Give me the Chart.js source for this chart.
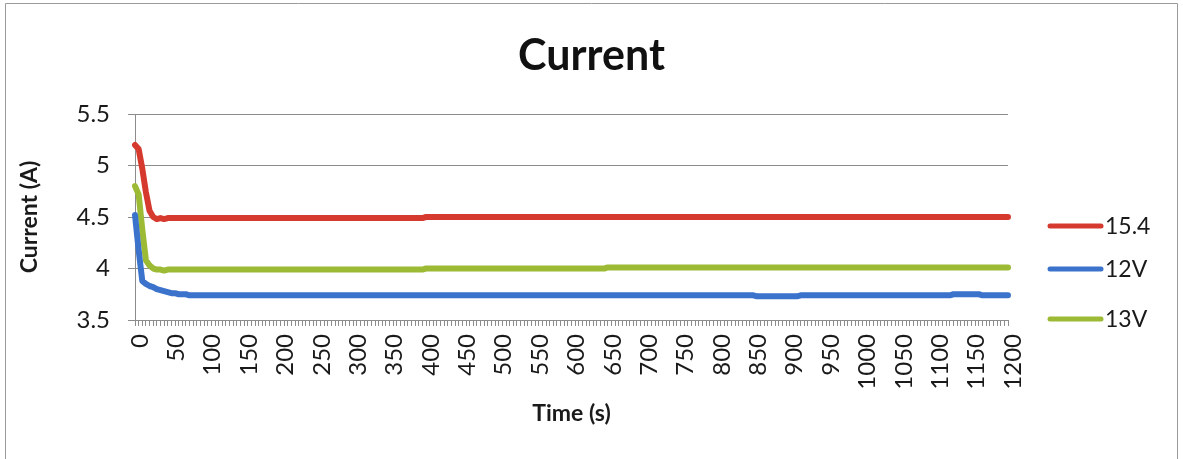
<!DOCTYPE html>
<html>
<head>
<meta charset="utf-8">
<script src="https://cdn.jsdelivr.net/npm/chart.js@4.4.1/dist/chart.umd.min.js"></script>
<style>
html,body{margin:0;padding:0;background:#fff;}
#wrap{width:1183px;height:459px;position:relative;}
</style>
</head>
<body>
<div id="wrap"><canvas id="c" width="1183" height="459"></canvas></div>
<script>
// ---- data ----
const times = [
0,5,10,15,20,25,30,35,40,45,
50,55,60,65,70,75,80,85,90,95,
100,105,110,115,120,125,130,135,140,145,
150,155,160,165,170,175,180,185,190,195,
200,205,210,215,220,225,230,235,240,245,
250,255,260,265,270,275,280,285,290,295,
300,305,310,315,320,325,330,335,340,345,
350,355,360,365,370,375,380,385,390,395,
400,405,410,415,420,425,430,435,440,445,
450,455,460,465,470,475,480,485,490,495,
500,505,510,515,520,525,530,535,540,545,
550,555,560,565,570,575,580,585,590,595,
600,605,610,615,620,625,630,635,640,645,
650,655,660,665,670,675,680,685,690,695,
700,705,710,715,720,725,730,735,740,745,
750,755,760,765,770,775,780,785,790,795,
800,805,810,815,820,825,830,835,840,845,
850,855,860,865,870,875,880,885,890,895,
900,905,910,915,920,925,930,935,940,945,
950,955,960,965,970,975,980,985,990,995,
1000,1005,1010,1015,1020,1025,1030,1035,1040,1045,
1050,1055,1060,1065,1070,1075,1080,1085,1090,1095,
1100,1105,1110,1115,1120,1125,1130,1135,1140,1145,
1150,1155,1160,1165,1170,1175,1180,1185,1190,1195,
1200];

const xTickLabels = [0,50,100,150,200,250,300,350,400,450,500,550,600,650,700,750,800,850,900,950,1000,1050,1100,1150,1200];
const yTickValues = [3.5,4,4.5,5,5.5];
const seriesNames = ["15.4","12V","13V"];
const chartTitle = "Current";

const current154 = [
5.20,5.16,4.97,4.74,4.56,4.50,4.48,4.49,4.48,4.49,
4.49,4.49,4.49,4.49,4.49,4.49,4.49,4.49,4.49,4.49,
4.49,4.49,4.49,4.49,4.49,4.49,4.49,4.49,4.49,4.49,
4.49,4.49,4.49,4.49,4.49,4.49,4.49,4.49,4.49,4.49,
4.49,4.49,4.49,4.49,4.49,4.49,4.49,4.49,4.49,4.49,
4.49,4.49,4.49,4.49,4.49,4.49,4.49,4.49,4.49,4.49,
4.49,4.49,4.49,4.49,4.49,4.49,4.49,4.49,4.49,4.49,
4.49,4.49,4.49,4.49,4.49,4.49,4.49,4.49,4.49,4.49,
4.50,4.50,4.50,4.50,4.50,4.50,4.50,4.50,4.50,4.50,
4.50,4.50,4.50,4.50,4.50,4.50,4.50,4.50,4.50,4.50,
4.50,4.50,4.50,4.50,4.50,4.50,4.50,4.50,4.50,4.50,
4.50,4.50,4.50,4.50,4.50,4.50,4.50,4.50,4.50,4.50,
4.50,4.50,4.50,4.50,4.50,4.50,4.50,4.50,4.50,4.50,
4.50,4.50,4.50,4.50,4.50,4.50,4.50,4.50,4.50,4.50,
4.50,4.50,4.50,4.50,4.50,4.50,4.50,4.50,4.50,4.50,
4.50,4.50,4.50,4.50,4.50,4.50,4.50,4.50,4.50,4.50,
4.50,4.50,4.50,4.50,4.50,4.50,4.50,4.50,4.50,4.50,
4.50,4.50,4.50,4.50,4.50,4.50,4.50,4.50,4.50,4.50,
4.50,4.50,4.50,4.50,4.50,4.50,4.50,4.50,4.50,4.50,
4.50,4.50,4.50,4.50,4.50,4.50,4.50,4.50,4.50,4.50,
4.50,4.50,4.50,4.50,4.50,4.50,4.50,4.50,4.50,4.50,
4.50,4.50,4.50,4.50,4.50,4.50,4.50,4.50,4.50,4.50,
4.50,4.50,4.50,4.50,4.50,4.50,4.50,4.50,4.50,4.50,
4.50,4.50,4.50,4.50,4.50,4.50,4.50,4.50,4.50,4.50,
4.50];

const current12V = [
4.52,4.18,3.88,3.85,3.83,3.82,3.80,3.79,3.78,3.77,
3.76,3.76,3.75,3.75,3.75,3.74,3.74,3.74,3.74,3.74,
3.74,3.74,3.74,3.74,3.74,3.74,3.74,3.74,3.74,3.74,
3.74,3.74,3.74,3.74,3.74,3.74,3.74,3.74,3.74,3.74,
3.74,3.74,3.74,3.74,3.74,3.74,3.74,3.74,3.74,3.74,
3.74,3.74,3.74,3.74,3.74,3.74,3.74,3.74,3.74,3.74,
3.74,3.74,3.74,3.74,3.74,3.74,3.74,3.74,3.74,3.74,
3.74,3.74,3.74,3.74,3.74,3.74,3.74,3.74,3.74,3.74,
3.74,3.74,3.74,3.74,3.74,3.74,3.74,3.74,3.74,3.74,
3.74,3.74,3.74,3.74,3.74,3.74,3.74,3.74,3.74,3.74,
3.74,3.74,3.74,3.74,3.74,3.74,3.74,3.74,3.74,3.74,
3.74,3.74,3.74,3.74,3.74,3.74,3.74,3.74,3.74,3.74,
3.74,3.74,3.74,3.74,3.74,3.74,3.74,3.74,3.74,3.74,
3.74,3.74,3.74,3.74,3.74,3.74,3.74,3.74,3.74,3.74,
3.74,3.74,3.74,3.74,3.74,3.74,3.74,3.74,3.74,3.74,
3.74,3.74,3.74,3.74,3.74,3.74,3.74,3.74,3.74,3.74,
3.74,3.74,3.74,3.74,3.74,3.74,3.74,3.74,3.74,3.74,
3.74,3.73,3.73,3.73,3.73,3.73,3.73,3.73,3.73,3.73,
3.73,3.73,3.73,3.74,3.74,3.74,3.74,3.74,3.74,3.74,
3.74,3.74,3.74,3.74,3.74,3.74,3.74,3.74,3.74,3.74,
3.74,3.74,3.74,3.74,3.74,3.74,3.74,3.74,3.74,3.74,
3.74,3.74,3.74,3.74,3.74,3.74,3.74,3.74,3.74,3.74,
3.74,3.74,3.74,3.74,3.74,3.75,3.75,3.75,3.75,3.75,
3.75,3.75,3.75,3.74,3.74,3.74,3.74,3.74,3.74,3.74,
3.74];

const current13V = [
4.80,4.72,4.38,4.08,4.03,4.00,3.99,3.99,3.98,3.99,
3.99,3.99,3.99,3.99,3.99,3.99,3.99,3.99,3.99,3.99,
3.99,3.99,3.99,3.99,3.99,3.99,3.99,3.99,3.99,3.99,
3.99,3.99,3.99,3.99,3.99,3.99,3.99,3.99,3.99,3.99,
3.99,3.99,3.99,3.99,3.99,3.99,3.99,3.99,3.99,3.99,
3.99,3.99,3.99,3.99,3.99,3.99,3.99,3.99,3.99,3.99,
3.99,3.99,3.99,3.99,3.99,3.99,3.99,3.99,3.99,3.99,
3.99,3.99,3.99,3.99,3.99,3.99,3.99,3.99,3.99,3.99,
4.00,4.00,4.00,4.00,4.00,4.00,4.00,4.00,4.00,4.00,
4.00,4.00,4.00,4.00,4.00,4.00,4.00,4.00,4.00,4.00,
4.00,4.00,4.00,4.00,4.00,4.00,4.00,4.00,4.00,4.00,
4.00,4.00,4.00,4.00,4.00,4.00,4.00,4.00,4.00,4.00,
4.00,4.00,4.00,4.00,4.00,4.00,4.00,4.00,4.00,4.00,
4.01,4.01,4.01,4.01,4.01,4.01,4.01,4.01,4.01,4.01,
4.01,4.01,4.01,4.01,4.01,4.01,4.01,4.01,4.01,4.01,
4.01,4.01,4.01,4.01,4.01,4.01,4.01,4.01,4.01,4.01,
4.01,4.01,4.01,4.01,4.01,4.01,4.01,4.01,4.01,4.01,
4.01,4.01,4.01,4.01,4.01,4.01,4.01,4.01,4.01,4.01,
4.01,4.01,4.01,4.01,4.01,4.01,4.01,4.01,4.01,4.01,
4.01,4.01,4.01,4.01,4.01,4.01,4.01,4.01,4.01,4.01,
4.01,4.01,4.01,4.01,4.01,4.01,4.01,4.01,4.01,4.01,
4.01,4.01,4.01,4.01,4.01,4.01,4.01,4.01,4.01,4.01,
4.01,4.01,4.01,4.01,4.01,4.01,4.01,4.01,4.01,4.01,
4.01,4.01,4.01,4.01,4.01,4.01,4.01,4.01,4.01,4.01,
4.01];

// ---- styles ----
const colors = ["#d63a2e", "#3b72cc", "#9dba34"];
const FONT = "Lato, 'Open Sans', sans-serif";
const AXIS_GRAY = "#8c8c8c";
const TEXT = "#1a1a1a";

const framePlugin = {
  id: 'frame',
  beforeDraw(chart) {
    const ctx = chart.ctx;
    ctx.save();
    ctx.fillStyle = '#ffffff';
    ctx.fillRect(0, 0, chart.width, chart.height);
    ctx.strokeStyle = '#9a9a9a';
    ctx.lineWidth = 1;
    ctx.beginPath();
    ctx.moveTo(5.5, chart.height);
    ctx.lineTo(5.5, 3.5);
    ctx.lineTo(1177.5, 3.5);
    ctx.lineTo(1177.5, chart.height);
    ctx.stroke();
    // title, centred on the whole chart
    ctx.fillStyle = '#111';
    ctx.font = "bold 43px " + FONT;
    ctx.textAlign = 'center';
    ctx.textBaseline = 'middle';
    ctx.fillText(chartTitle, chart.width / 2, 56);
    ctx.restore();
  }
};

const legendPlugin = {
  id: 'sideLegend',
  afterDraw(chart) {
    const ctx = chart.ctx;
    const ys = [226, 269, 319];
    ctx.save();
    chart.data.datasets.forEach((ds, i) => {
      const y = ys[i];
      ctx.strokeStyle = ds.borderColor;
      ctx.lineWidth = 5;
      ctx.lineCap = 'round';
      ctx.beginPath();
      ctx.moveTo(1050, y);
      ctx.lineTo(1101, y);
      ctx.stroke();
      ctx.fillStyle = TEXT;
      ctx.font = "23px " + FONT;
      ctx.textBaseline = 'middle';
      ctx.textAlign = 'left';
      ctx.fillText(ds.label, 1105, y + 1);
    });
    ctx.restore();
  }
};

new Chart(document.getElementById('c'), {
  type: 'line',
  data: {
    labels: times,
    datasets: [
      { label: seriesNames[0], data: current154, borderColor: colors[0], backgroundColor: colors[0] },
      { label: seriesNames[1], data: current12V, borderColor: colors[1], backgroundColor: colors[1] },
      { label: seriesNames[2], data: current13V, borderColor: colors[2], backgroundColor: colors[2] }
    ]
  },
  plugins: [framePlugin, legendPlugin],
  options: {
    responsive: false,
    animation: false,
    devicePixelRatio: 1,
    layout: { padding: { left: 0, right: 175, top: 114, bottom: 0 } },
    elements: {
      point: { radius: 0, hoverRadius: 0 },
      line: { borderWidth: 6, tension: 0, borderCapStyle: 'round', borderJoinStyle: 'round' }
    },
    plugins: {
      legend: { display: false },
      tooltip: { enabled: false },
      title: { display: false }
    },
    scales: {
      x: {
        type: 'category',
        offset: false,
        grid: {
          display: true,
          drawOnChartArea: false,
          drawTicks: true,
          tickLength: 6,
          color: AXIS_GRAY
        },
        border: { display: true, color: AXIS_GRAY, width: 1 },
        ticks: {
          autoSkip: false,
          maxRotation: 90,
          minRotation: 90,
          padding: 8,
          labelOffset: 5,
          color: TEXT,
          font: { family: FONT, size: 24 },
          callback: function(value, index) {
            const t = times[index];
            return xTickLabels.includes(t) ? String(t) : '';
          }
        },
        title: {
          display: true,
          text: 'Time (s)',
          color: TEXT,
          font: { family: FONT, size: 23, weight: 'bold', lineHeight: 1.2 },
          padding: { top: 0, bottom: 32 }
        },
        afterFit(scale) { scale.height = 139; }
      },
      y: {
        type: 'linear',
        min: 3.5,
        max: 5.5,
        afterBuildTicks(scale) { scale.ticks = yTickValues.map(v => ({ value: v })); },
        grid: {
          display: true,
          drawOnChartArea: true,
          drawTicks: true,
          tickLength: 7,
          color: AXIS_GRAY
        },
        border: { display: true, color: AXIS_GRAY, width: 1 },
        ticks: {
          padding: 18,
          color: TEXT,
          font: { family: FONT, size: 24 },
          callback: v => String(v)
        },
        title: {
          display: true,
          text: 'Current (A)',
          color: TEXT,
          font: { family: FONT, size: 23, weight: 'bold', lineHeight: 1.2 },
          padding: { top: 16, bottom: 0 }
        },
        afterFit(scale) { scale.width = 135; }
      }
    }
  }
});
</script>
</body>
</html>
